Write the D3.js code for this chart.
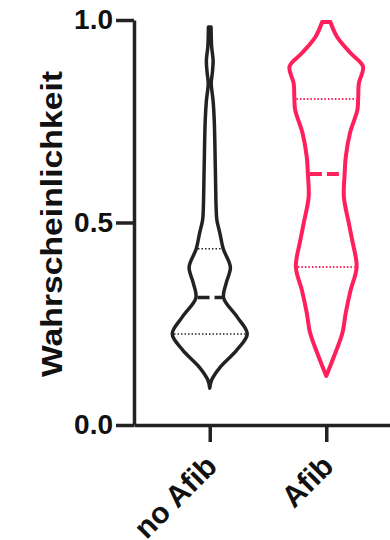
<!doctype html>
<html>
<head>
<meta charset="utf-8" />
<script src="https://d3js.org/d3.v7.min.js"></script>
<style>
  body { margin: 0; background: #fff; }
  text { font-family: "Liberation Sans", Arial, sans-serif; font-weight: bold; fill: #111; }
</style>
</head>
<body>
<div id="chart"></div>
<script>

// data
var categories = ["no Afib", "Afib"];
var yTicks = [0, 0.5, 1.0];

// violin outlines: probability value and relative density (1 = widest)
var noAfibProb = [0.091, 0.111, 0.143, 0.185, 0.225, 0.267, 0.314, 0.351, 0.390, 0.435, 0.474, 0.506, 0.538, 0.630, 0.753, 0.800, 0.844, 0.870, 0.900, 0.935, 0.983];
var noAfibDens = [0.0, 0.05, 0.28, 0.72, 1.0, 0.73, 0.37, 0.44, 0.55, 0.36, 0.27, 0.19, 0.17, 0.15, 0.12, 0.09, 0.04, 0.07, 0.09, 0.05, 0.035];

var afibProb = [0.121, 0.168, 0.227, 0.277, 0.333, 0.390, 0.457, 0.499, 0.563, 0.620, 0.662, 0.720, 0.778, 0.805, 0.844, 0.885, 0.919, 0.958, 0.995];
var afibDens = [0.0, 0.20, 0.43, 0.52, 0.65, 0.81, 0.69, 0.60, 0.47, 0.49, 0.52, 0.63, 0.83, 0.85, 0.87, 0.98, 0.64, 0.29, 0.11];

var medians = [0.315, 0.62];
var q1 = [0.225, 0.39];
var q3 = [0.435, 0.805];

var colors = ["#222222", "#ff1f5b"];

var width = 390, height = 540;

var svg = d3.select("#chart").append("svg")
    .attr("width", width).attr("height", height);

var y = d3.scaleLinear().domain([0, 1]).range([425, 20]);
var x = d3.scalePoint().domain(categories).range([134, 402]).padding(0.65);
var w = d3.scaleLinear().domain([0, 1]).range([0, 37.5]);

var series = [
  {name: categories[0], prob: noAfibProb, dens: noAfibDens, med: medians[0], lo: q1[0], hi: q3[0], color: colors[0], sw: 3.5},
  {name: categories[1], prob: afibProb, dens: afibDens, med: medians[1], lo: q1[1], hi: q3[1], color: colors[1], sw: 4}
];

series.forEach(function(s) {
  var cx = x(s.name);
  var pts = s.prob.map(function(p, i) { return {p: p, d: s.dens[i]}; });
  var densAt = d3.scaleLinear().domain(s.prob).range(s.dens).clamp(true);

  var area = d3.area()
      .curve(d3.curveCatmullRom)
      .y(function(d) { return y(d.p); })
      .x0(function(d) { return cx - w(d.d); })
      .x1(function(d) { return cx + w(d.d); });

  svg.append("path")
      .attr("d", area(pts))
      .attr("fill", "none")
      .attr("stroke", s.color)
      .attr("stroke-width", s.sw)
      .attr("stroke-linejoin", "round");

  // inner half width at a value
  function half(v) { return w(densAt(v)) - s.sw / 2; }

  // quartiles, dotted
  [s.lo, s.hi].forEach(function(v) {
    svg.append("line")
        .attr("x1", cx - half(v)).attr("x2", cx + half(v))
        .attr("y1", y(v)).attr("y2", y(v))
        .attr("stroke", s.color)
        .attr("stroke-width", s.color == colors[0] ? 1.5 : 2)
        .attr("stroke-dasharray", "1.5,2");
  });

  // median, dashed
  svg.append("line")
      .attr("x1", cx - half(s.med)).attr("x2", cx + half(s.med))
      .attr("y1", y(s.med)).attr("y2", y(s.med))
      .attr("stroke", s.color)
      .attr("stroke-width", s.sw)
      .attr("stroke-dasharray", "12,5");
});

// y axis
var yAxis = svg.append("g")
    .attr("transform", "translate(134,0)")
    .call(d3.axisLeft(y).tickValues(yTicks).tickFormat(d3.format(".1f"))
          .tickSize(18).tickSizeOuter(0).tickPadding(3));

// x axis
var xAxis = svg.append("g")
    .attr("transform", "translate(0,425)")
    .call(d3.axisBottom(x).tickSize(17).tickSizeOuter(0).tickFormat(""));

svg.selectAll(".domain, .tick line")
    .attr("stroke", "#222")
    .attr("stroke-width", 3.5);

yAxis.selectAll("text")
    .style("font-size", "28px")
    .attr("fill", "#111");

svg.selectAll(".tick text").style("font-family", "Liberation Sans, Arial, sans-serif").style("font-weight", "bold");

// rotated category labels
svg.append("g").selectAll("text")
    .data(categories).enter()
    .append("text")
    .attr("transform", function(d) { return "translate(" + (x(d) + 9) + ",468) rotate(-45)"; })
    .attr("text-anchor", "end")
    .style("font-size", "30px")
    .text(function(d) { return d; });

// y title
svg.append("text")
    .attr("transform", "translate(62,224) rotate(-90)")
    .attr("text-anchor", "middle")
    .attr("textLength", 306)
    .attr("lengthAdjust", "spacingAndGlyphs")
    .style("font-size", "30px")
    .text("Wahrscheinlichkeit");

</script>
</body>
</html>
